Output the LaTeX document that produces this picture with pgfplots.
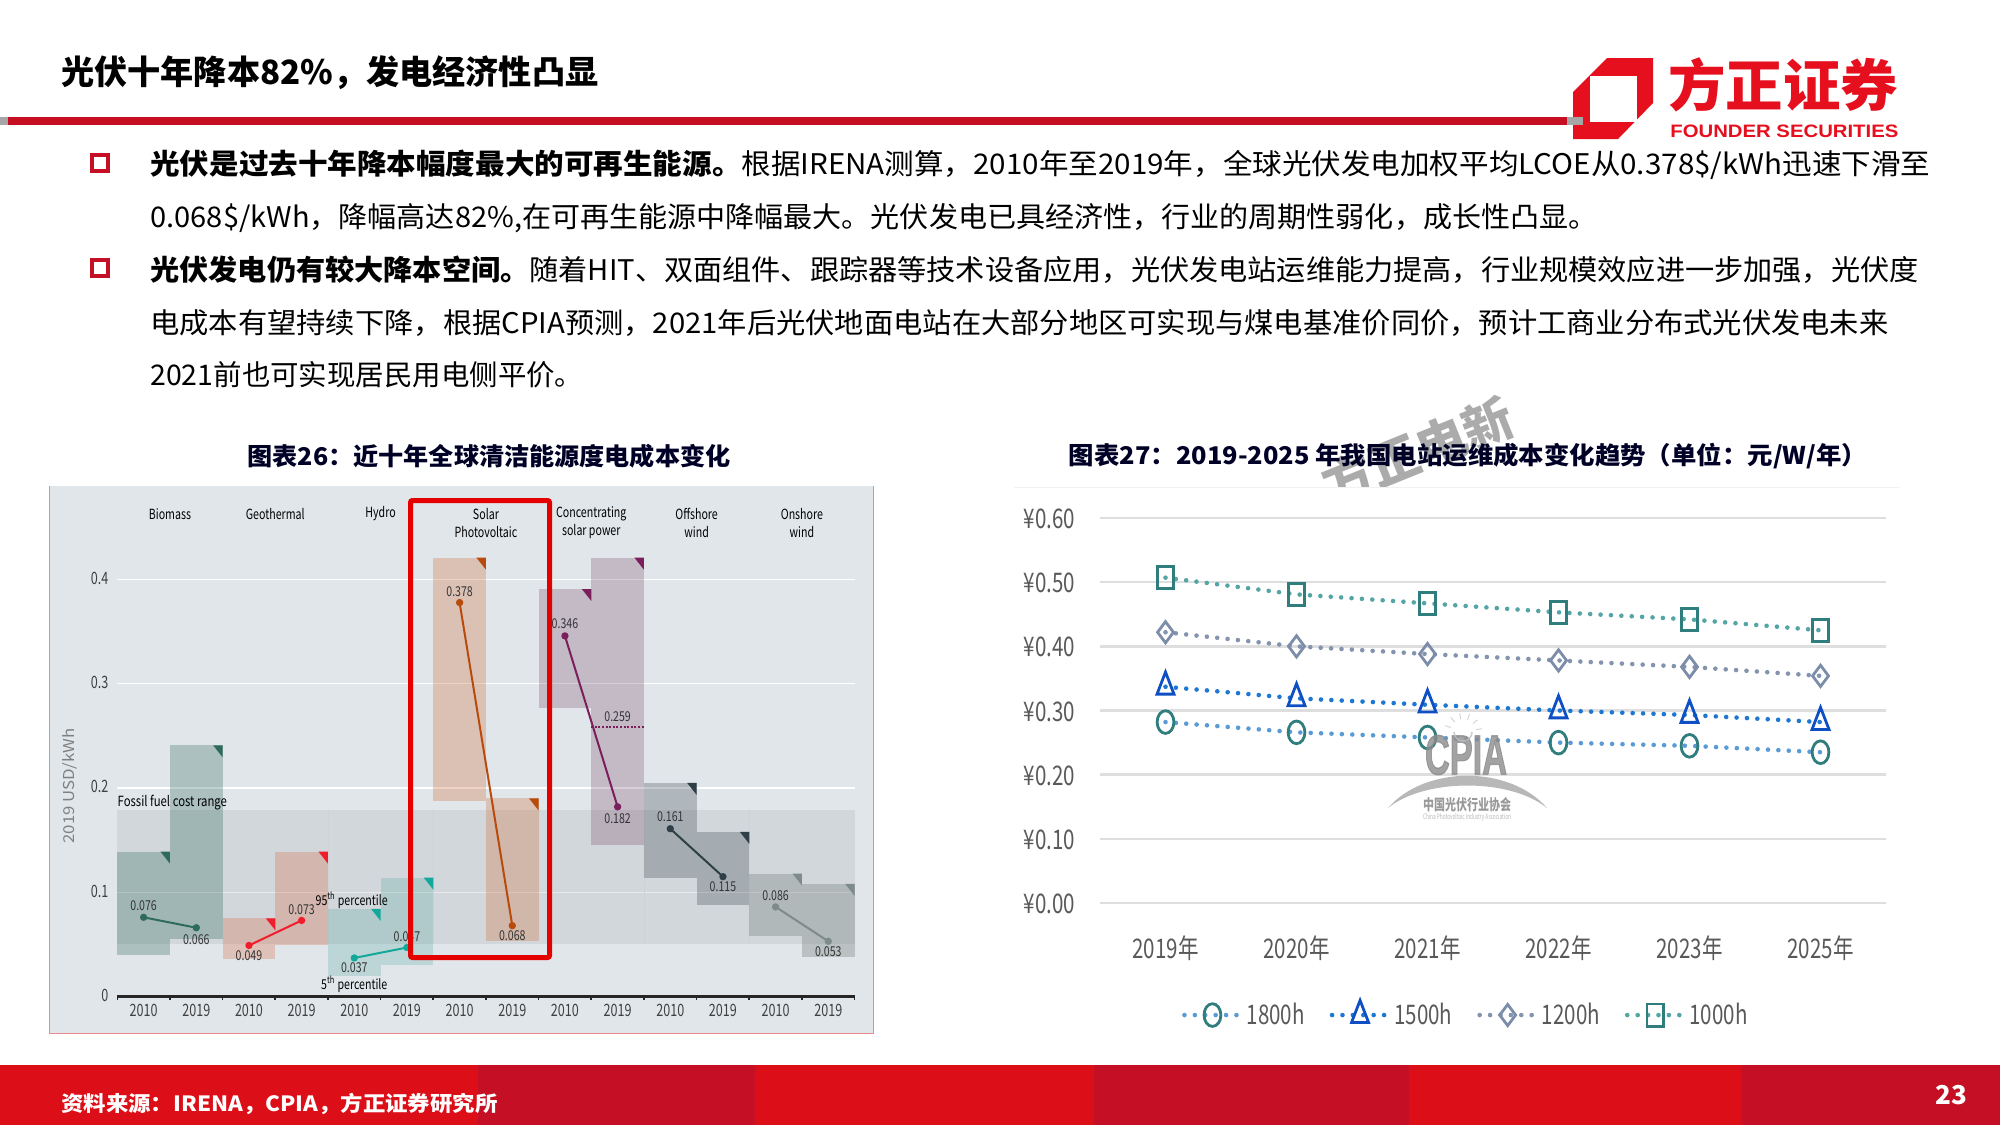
\documentclass[border=0pt]{standalone}
\usepackage{fontspec}
\usepackage{graphicx}
\usepackage{pgfplots}
\pgfplotsset{compat=1.18}
\setmainfont{Noto Sans CJK SC}
\newfontfamily\latinb{Liberation Sans}
\newfontfamily\fatb[FakeBold=2.5]{Liberation Sans Bold}
\newcommand{\fs}[1]{\fontsize{#1}{#1}\selectfont}
\newcommand{\ww}[2]{\resizebox{#1}{\height}{#2}}
\definecolor{panel}{HTML}{E1E6EA}
\definecolor{bandc}{HTML}{A8ADB2}
\definecolor{cbio}{HTML}{2F6B5C}
\definecolor{cgeo}{HTML}{F01D2D}
\definecolor{cgeob}{HTML}{D8542A}
\definecolor{chyd}{HTML}{12A89A}
\definecolor{chydb}{HTML}{3A9A92}
\definecolor{cpv}{HTML}{B84A0C}
\definecolor{cpvb}{HTML}{D06B3A}
\definecolor{ccsp}{HTML}{7B1F5C}
\definecolor{ccspb}{HTML}{6B3A5C}
\definecolor{coff}{HTML}{2F3F48}
\definecolor{conn}{HTML}{7F8A8A}
\definecolor{fred}{HTML}{DC0E18}
\definecolor{fdark}{HTML}{C40F25}
\definecolor{lred}{HTML}{E60F1E}
\definecolor{gridg}{HTML}{DEDEDE}
\definecolor{d18}{HTML}{5B9BD5}
\definecolor{m18}{HTML}{2F7D7D}
\definecolor{d15}{HTML}{1E78D2}
\definecolor{m15}{HTML}{0F4FC4}
\definecolor{d12}{HTML}{8594AE}
\definecolor{m12}{HTML}{7C8DAA}
\definecolor{d10}{HTML}{55A5A5}
\definecolor{m10}{HTML}{2F7D7D}
\newcommand{\vl}[1]{\scalebox{.78}[1]{\fs{6.8}\color{black!80}#1}}
\newcommand{\cat}[1]{\scalebox{.76}[1]{\fs{7}#1}}
\newcommand{\tk}[1]{\scalebox{.74}[1]{\fs{8.5}#1}}
\newcommand{\nm}[1]{\scalebox{.76}[1]{\fs{13.5}#1}}
\newcommand{\rng}[5]{\addplot[fill=#3,fill opacity=#4,draw=none,forget plot] coordinates {#5};}
\newcommand{\tri}[2]{\addplot[fill=#1,draw=none,forget plot] coordinates {#2};}
\newcommand{\pair}[2]{\addplot[color=#1,line width=1pt,mark=*,mark size=1.3pt,forget plot] coordinates {#2};}
\tikzset{dotline/.style={line width=2.3pt,line cap=round,dash pattern=on 0pt off 5.2pt}}
\pgfplotsset{
  lg18/.style={legend image code/.code={\draw[dotline,color=d18] (0,0) -- (28pt,0); \draw[##1] plot coordinates {(14pt,0)};}},
  lg15/.style={legend image code/.code={\draw[dotline,color=d15] (0,0) -- (28pt,0); \draw[##1] plot coordinates {(14pt,0)};}},
  lg12/.style={legend image code/.code={\draw[dotline,color=d12] (0,0) -- (28pt,0); \draw[##1] plot coordinates {(14pt,0)};}},
  lg10/.style={legend image code/.code={\draw[dotline,color=d10] (0,0) -- (28pt,0); \draw[##1] plot coordinates {(14pt,0)};}},
}
\newcommand{\series}[7]{%
  \addplot[dotline,color=#1,forget plot] coordinates {#6};
  \addplot[only marks,mark=#2,mark size=#3,#7,
    mark options={solid,draw=#4,fill=white,line width=1.4pt,yscale=#5}]
    coordinates {#6};
}
\begin{document}
\begin{tikzpicture}
\path[use as bounding box] (0,0) rectangle (1000pt,-562.5pt);
\begin{scope}[x=.5pt,y=-.5pt]
% footer
\fill[fred] (0,1065) rectangle (2000,1125);
\fill[fdark] (478,1065) rectangle (755,1125);
\fill[fdark] (1094,1065) rectangle (1409,1125);
\fill[fdark] (1741,1065) rectangle (2000,1125);
% header logo and rule
\fill[lred] (1607,58) -- (1653,58) -- (1653,103) -- (1618,139) -- (1573,139) -- (1573,92) -- cycle;
\fill[white] (1590,76) rectangle (1637,122);
\fill[fdark!90!lred] (0,117) rectangle (1567,125);
\fill[gray!70] (1567,117) rectangle (1583,125);
\fill[gray!70] (0,117) rectangle (8,125);
\node[anchor=west,inner sep=0,text=lred] at (1668,85) {\ww{115pt}{\fs{28}\bfseries 方正证券}};
\node[anchor=west,inner sep=0,text=lred] at (1670,131.5) {\ww{114pt}{\fs{9}\latinb\bfseries FOUNDER SECURITIES}};
% title
\node[anchor=west,inner sep=0,text=black] at (61,73) {\ww{268.5pt}{\fs{16.7}\bfseries 光伏十年降本82\%，发电经济性凸显}};
% bullets
\draw[draw=fdark,line width=1.8pt] (92,155) rectangle (108,171);
\draw[draw=fdark,line width=1.8pt] (92,260) rectangle (108,276);
% body
\node[anchor=west,inner sep=0] at (150,165) {\ww{890pt}{\fs{14.2}\textbf{光伏是过去十年降本幅度最大的可再生能源。}根据IRENA测算，2010年至2019年，全球光伏发电加权平均LCOE从0.378\$/kWh迅速下滑至}};
\node[anchor=west,inner sep=0] at (150,218.5) {\ww{723.5pt}{\fs{14.2}0.068\$/kWh，降幅高达82\%,在可再生能源中降幅最大。光伏发电已具经济性，行业的周期性弱化，成长性凸显。}};
\node[anchor=west,inner sep=0] at (150,270) {\ww{884pt}{\fs{14.2}\textbf{光伏发电仍有较大降本空间。}随着HIT、双面组件、跟踪器等技术设备应用，光伏发电站运维能力提高，行业规模效应进一步加强，光伏度}};
\node[anchor=west,inner sep=0] at (150,323) {\ww{869pt}{\fs{14.2}电成本有望持续下降，根据CPIA预测，2021年后光伏地面电站在大部分地区可实现与煤电基准价同价，预计工商业分布式光伏发电未来}};
\node[anchor=west,inner sep=0] at (150,375) {\ww{216.5pt}{\fs{14.2}2021前也可实现居民用电侧平价。}};
% watermark
\begin{scope}
\clip (1200,380) rectangle (1600,487);
\node[rotate=22,text=black!33] at (1418,451) {\fs{25}\bfseries 方正电新};
\end{scope}
\fill[black!5] (1014,486.5) rectangle (1900,488);
% chart titles
\node[inner sep=0,text=black!85!blue] at (489,456) {\ww{241.5pt}{\fs{12.2}\bfseries 图表26：近十年全球清洁能源度电成本变化}};
\node[inner sep=0,text=black!85!blue] at (1468,456) {\ww{399pt}{\fs{12.2}\bfseries 图表27：2019-2025 年我国电站运维成本变化趋势（单位：元/W/年）}};
% left panel
\fill[panel] (49.3,486) rectangle (873.3,1033);
\draw[red!40!panel,line width=.5pt] (49.3,486) -- (49.3,1033) -- (873.3,1033) -- (873.3,486);
% footer text
\node[anchor=west,inner sep=0,text=white] at (61,1104) {\ww{218pt}{\fs{10.5}\bfseries 资料来源：IRENA，CPIA，方正证券研究所}};
\node[inner sep=0,text=white] at (1951,1095) {\fs{13}\bfseries 23};
\end{scope}

% left chart
\begin{axis}[
  at={(58.65pt,-498.25pt)},anchor=south west,scale only axis,
  width=368.65pt,height=234.5pt,
  xmin=0,xmax=14,ymin=0,ymax=.45,clip=false,
  axis x line*=bottom,axis y line*=left,
  x axis line style={-,line width=1.8pt,black!85},
  y axis line style={draw=none},
  ytick={0,.1,.2,.3,.4},yticklabels={\tk{0},\tk{0.1},\tk{0.2},\tk{0.3},\tk{0.4}},
  ymajorgrids,grid style={white,line width=.6pt},
  xtick={.5,1.5,...,13.5},
  xticklabels={\tk{2010},\tk{2019},\tk{2010},\tk{2019},\tk{2010},\tk{2019},\tk{2010},\tk{2019},\tk{2010},\tk{2019},\tk{2010},\tk{2019},\tk{2010},\tk{2019}},
  minor xtick={0,1,...,14},
  major tick length=0pt,minor tick length=1.8pt,tick align=outside,
  minor tick style={black!85,line width=.8pt},
  xticklabel style={text=black!75,yshift=2pt},
  yticklabel style={text=black!75,xshift=-1pt},
  typeset ticklabels with strut,
  ylabel={\scalebox{1.12}[1]{\fs{7.5}\color{black!50}2019 USD/kWh}},
  ylabel style={at={(axis description cs:-.065,.449)},anchor=center},
]
% fossil band
\addplot[fill=bandc,fill opacity=.25,draw=none,forget plot] coordinates {(0,.0503)(14,.0503)(14,.1787)(0,.1787)};
\foreach \q in {4,6,10,12}{
  \edef\tmp{\noexpand\addplot[black!18,line width=.3pt,forget plot] coordinates {(\q,.0503)(\q,.1787)};}\tmp
}
% ranges
\rng{0}{1}{cbio}{.3}{(0,.04)(1,.04)(1,.139)(0,.139)}
\rng{1}{2}{cbio}{.3}{(1,.055)(2,.055)(2,.241)(1,.241)}
\rng{2}{3}{cgeob}{.25}{(2,.036)(3,.036)(3,.075)(2,.075)}
\rng{3}{4}{cgeob}{.25}{(3,.049)(4,.049)(4,.139)(3,.139)}
\rng{4}{5}{chydb}{.22}{(4,.0196)(5,.0196)(5,.084)(4,.084)}
\rng{5}{6}{chydb}{.22}{(5,.03)(6,.03)(6,.114)(5,.114)}
\rng{6}{7}{cpvb}{.3}{(6,.188)(7,.188)(7,.421)(6,.421)}
\rng{7}{8}{cpvb}{.3}{(7,.053)(8,.053)(8,.19)(7,.19)}
\rng{8}{9}{ccspb}{.25}{(8,.277)(9,.277)(9,.391)(8,.391)}
\rng{9}{10}{ccspb}{.25}{(9,.145)(10,.145)(10,.421)(9,.421)}
\rng{10}{11}{coff}{.28}{(10,.114)(11,.114)(11,.205)(10,.205)}
\rng{11}{12}{coff}{.28}{(11,.088)(12,.088)(12,.158)(11,.158)}
\rng{12}{13}{conn}{.4}{(12,.058)(13,.058)(13,.118)(12,.118)}
\rng{13}{14}{conn}{.4}{(13,.038)(14,.038)(14,.108)(13,.108)}
% corner triangles
\tri{cbio}{(.82,.139)(1,.139)(1,.1275)}
\tri{cbio}{(1.82,.241)(2,.241)(2,.2295)}
\tri{cgeo}{(2.82,.075)(3,.075)(3,.0635)}
\tri{cgeo}{(3.82,.139)(4,.139)(4,.1275)}
\tri{chyd}{(4.82,.084)(5,.084)(5,.0725)}
\tri{chyd}{(5.82,.114)(6,.114)(6,.1025)}
\tri{cpv}{(6.82,.421)(7,.421)(7,.4095)}
\tri{cpv}{(7.82,.19)(8,.19)(8,.1785)}
\tri{ccsp}{(8.82,.391)(9,.391)(9,.3795)}
\tri{ccsp}{(9.82,.421)(10,.421)(10,.4095)}
\tri{coff}{(10.82,.205)(11,.205)(11,.1935)}
\tri{coff}{(11.82,.158)(12,.158)(12,.1465)}
\tri{conn}{(12.82,.118)(13,.118)(13,.1065)}
\tri{conn}{(13.82,.108)(14,.108)(14,.0965)}
% weighted averages
\pair{cbio}{(.5,.076)(1.5,.066)}
\pair{cgeo}{(2.5,.049)(3.5,.073)}
\pair{chyd}{(4.5,.037)(5.5,.047)}
\pair{cpv}{(6.5,.378)(7.5,.068)}
\pair{ccsp}{(8.5,.346)(9.5,.182)}
\pair{coff}{(10.5,.161)(11.5,.115)}
\pair{conn}{(12.5,.086)(13.5,.053)}
\addplot[ccsp,line width=1pt,dash pattern=on 1pt off .8pt,forget plot] coordinates {(9,.259)(10,.259)};
% value labels
\node at (axis cs:.5,.087) {\vl{0.076}};
\node at (axis cs:1.5,.055) {\vl{0.066}};
\node at (axis cs:2.5,.0395) {\vl{0.049}};
\node at (axis cs:3.5,.083) {\vl{0.073}};
\node at (axis cs:4.5,.0275) {\vl{0.037}};
\node at (axis cs:5.5,.0575) {\vl{0.047}};
\node at (axis cs:6.5,.388) {\vl{0.378}};
\node at (axis cs:7.5,.0585) {\vl{0.068}};
\node at (axis cs:8.5,.358) {\vl{0.346}};
\node at (axis cs:9.5,.269) {\vl{0.259}};
\node at (axis cs:9.5,.171) {\vl{0.182}};
\node at (axis cs:10.5,.173) {\vl{0.161}};
\node at (axis cs:11.5,.105) {\vl{0.115}};
\node at (axis cs:12.5,.097) {\vl{0.086}};
\node at (axis cs:13.5,.043) {\vl{0.053}};
\node[anchor=west,inner sep=0] at (axis cs:0,.186) {\scalebox{.81}[1]{\fs{7}Fossil fuel cost range}};
\node at (axis cs:4.45,.092) {\scalebox{.78}[1]{\fs{6.8}95\textsuperscript{th} percentile}};
\node at (axis cs:4.5,.012) {\scalebox{.78}[1]{\fs{6.8}5\textsuperscript{th} percentile}};
% category names
\node at (axis cs:1,.463) {\cat{Biomass}};
\node at (axis cs:3,.463) {\cat{Geothermal}};
\node at (axis cs:5,.463) {\cat{Hydro}};
\node at (axis cs:7,.463) {\cat{Solar}};
\node at (axis cs:7,.446) {\cat{Photovoltaic}};
\node at (axis cs:9,.463) {\cat{Concentrating}};
\node at (axis cs:9,.446) {\cat{solar power}};
\node at (axis cs:11,.463) {\cat{Offshore}};
\node at (axis cs:11,.446) {\cat{wind}};
\node at (axis cs:13,.463) {\cat{Onshore}};
\node at (axis cs:13,.446) {\cat{wind}};
\end{axis}

% right chart
\begin{axis}[
  at={(550pt,-451.5pt)},anchor=south west,scale only axis,
  width=393pt,height=192.5pt,
  xmin=-.5,xmax=5.5,ymin=0,ymax=.6,clip=false,
  axis line style={draw=none},
  ytick={0,.1,.2,.3,.4,.5,.6},
  yticklabels={\nm{¥0.00},\nm{¥0.10},\nm{¥0.20},\nm{¥0.30},\nm{¥0.40},\nm{¥0.50},\nm{¥0.60}},
  xtick={0,1,2,3,4,5},
  xticklabels={\nm{2019年},\nm{2020年},\nm{2021年},\nm{2022年},\nm{2023年},\nm{2025年}},
  major tick length=0pt,
  ymajorgrids,grid style={gridg,line width=1.2pt},
  xticklabel style={text=black!65,yshift=-13pt},
  yticklabel style={text=black!65,xshift=-9pt,yshift=-.5pt},
  legend columns=4,
  legend style={at={(.104,-.291)},anchor=west,draw=none,fill=none,inner sep=0pt,text=black!65,
    /tikz/every even column/.append style={column sep=10.5pt}},
  legend cell align=left,
]
\series{d18}{o}{4.2pt}{m18}{1.35}{(0,.282)(1,.266)(2,.258)(3,.25)(4,.245)(5,.235)}{lg18}
\addlegendentry{\nm{1800h}}
\series{d15}{triangle}{4.9pt}{m15}{1.5}{(0,.337)(1,.319)(2,.309)(3,.3)(4,.293)(5,.282)}{lg15}
\addlegendentry{\nm{1500h}}
\series{d12}{diamond}{5.3pt}{m12}{1}{(0,.422)(1,.4)(2,.388)(3,.378)(4,.368)(5,.354)}{lg12}
\addlegendentry{\nm{1200h}}
\series{d10}{square}{4.1pt}{m10}{1.35}{(0,.507)(1,.481)(2,.467)(3,.453)(4,.442)(5,.425)}{lg10}
\addlegendentry{\nm{1000h}}
\end{axis}

% overlays
\begin{scope}[x=.5pt,y=-.5pt]
\draw[draw=red!90!black,line width=2.5pt,rounded corners=1pt] (410.5,500.5) rectangle (549.5,957.5);
% CPIA mark
\begin{scope}[opacity=.8]
\node[inner sep=0,text=black!45] at (1466,755) {\resizebox{41pt}{19.5pt}{\fatb CPIA}};
\fill[black!35] (1388,808) .. controls (1425,765) and (1510,765) .. (1547,808) .. controls (1510,778) and (1425,778) .. (1388,808) -- cycle;
\node[inner sep=0,text=black!50] at (1467,805) {\resizebox{44pt}{6.5pt}{\bfseries 中国光伏行业协会}};
\node[inner sep=0,text=black!35] at (1467,817) {\resizebox{44pt}{3pt}{China Photovoltaic Industry Association}};
\draw[black!25,line width=.8pt] (1454,732) arc (180:0:9);
\foreach \a in {20,50,...,170}{\draw[black!20,line width=.5pt] (1463,732) ++({\a}:-13) -- ++({\a}:-6);}
\end{scope}
\end{scope}
\end{tikzpicture}
\end{document}
